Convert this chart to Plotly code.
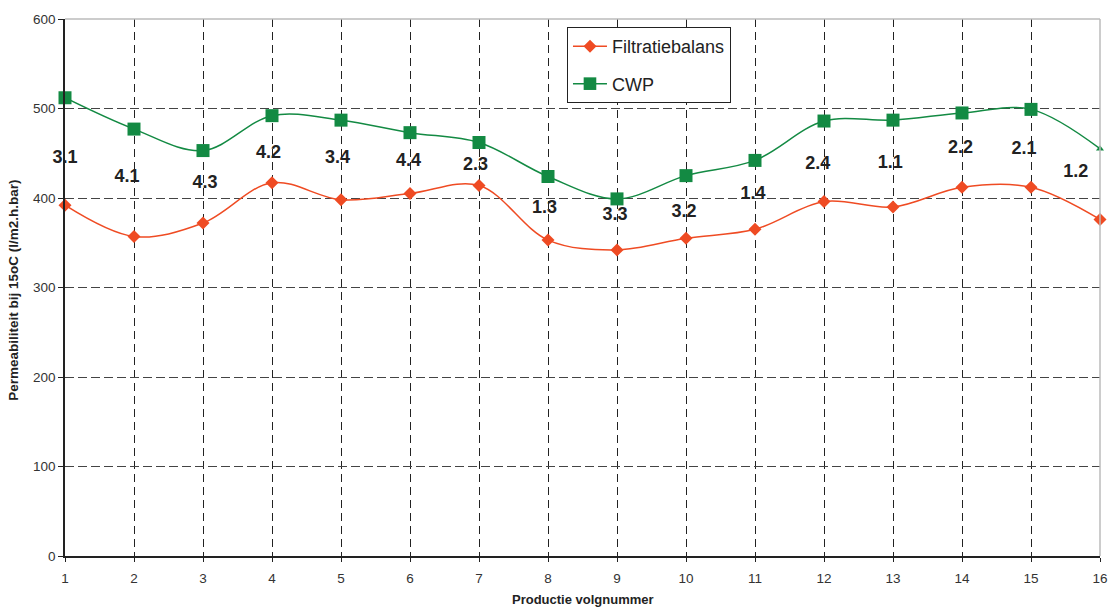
import plotly.graph_objects as go

# ---- data ----
volgnummer = list(range(1, 17))
filtratiebalans = [392, 357, 372, 417, 398, 405, 414, 353, 342, 355, 365, 396, 390, 412, 412, 376]
cwp = [512, 477, 453, 492, 487, 473, 462, 424, 399, 425, 442, 486, 487, 495, 499, 455]
cwp_symbols = ["square"] * 15 + ["triangle-up"]
cwp_sizes = [13] * 15 + [7]

label_text = ["3.1", "4.1", "4.3", "4.2", "3.4", "4.4", "2.3", "1.3",
              "3.3", "3.2", "1.4", "2.4", "1.1", "2.2", "2.1", "1.2"]
label_x = [1.0, 1.9, 3.03, 3.95, 4.95, 5.98, 6.95, 7.95,
           8.97, 9.97, 10.97, 11.91, 12.96, 13.98, 14.9, 15.65]
label_y = [444, 423, 416, 450, 444, 441, 436, 388,
           381, 384, 404, 437, 439, 455, 454, 428]

FONT = "Liberation Sans, Arial, sans-serif"
RED = "#EF4B23"
GREEN = "#138A43"

fig = go.Figure()
fig.add_trace(go.Scatter(
    x=volgnummer, y=filtratiebalans, name="Filtratiebalans",
    mode="lines+markers", legendgroup="a", cliponaxis=False,
    line=dict(color=RED, width=1.5, shape="spline", smoothing=1),
    marker=dict(symbol="diamond", size=10, color=RED, opacity=1, line=dict(width=0)),
))
fig.add_trace(go.Scatter(
    x=volgnummer, y=cwp, name="CWP",
    mode="lines+markers", legendgroup="b", cliponaxis=False,
    line=dict(color=GREEN, width=1.5, shape="spline", smoothing=1),
    marker=dict(symbol=cwp_symbols, size=cwp_sizes, color=GREEN, opacity=1, line=dict(width=0)),
))
fig.add_trace(go.Scatter(
    x=label_x, y=label_y, text=label_text, mode="text", cliponaxis=False,
    textposition="middle center", showlegend=False, hoverinfo="skip",
    textfont=dict(family=FONT, size=18, color="#222222", weight="bold"),
))

fig.update_layout(
    width=1109, height=607,
    margin=dict(l=65, r=9, t=19, b=51, autoexpand=False),
    paper_bgcolor="white", plot_bgcolor="white",
    font=dict(family=FONT, size=13.5, color="#333333"),
    showlegend=True,
    legend=dict(
        x=0.485, y=0.985, xanchor="left", yanchor="top",
        bgcolor="white", bordercolor="#222222", borderwidth=1,
        font=dict(family=FONT, size=18, color="#222222"),
        tracegroupgap=11, itemwidth=34,
    ),
    xaxis=dict(
        range=[1, 16], tick0=1, dtick=1, showline=True, linecolor="#222222", linewidth=1.5,
        ticks="outside", ticklen=4, tickcolor="#222222", ticklabelstandoff=5,
        showgrid=True, gridcolor="#222222", griddash="8px,5px", gridwidth=1,
        zeroline=False, fixedrange=True, automargin=False,
    ),
    yaxis=dict(
        range=[0, 600], tick0=0, dtick=100, showline=True, linecolor="#222222", linewidth=1.5,
        ticks="outside", ticklen=5, tickcolor="#222222",
        showgrid=True, gridcolor="#444444", griddash="9px,4px", gridwidth=1,
        zeroline=False, fixedrange=True, automargin=False,
    ),
    shapes=[
        dict(type="line", xref="paper", yref="paper", x0=0, x1=1, y0=1, y1=1,
             line=dict(color="#BBBBBB", width=1.5)),
        dict(type="line", xref="paper", yref="paper", x0=1, x1=1, y0=0, y1=1,
             line=dict(color="#BBBBBB", width=1.5)),
    ],
    annotations=[
        dict(text="<b>Permeabiliteit bij 15oC (l/m2.h.bar)</b>", textangle=-90,
             xref="paper", yref="paper", x=0, y=0.494, xanchor="center", yanchor="middle",
             xshift=-51, showarrow=False, font=dict(family=FONT, size=13.5, color="#222222")),
        dict(text="<b>Productie volgnummer</b>",
             xref="paper", yref="paper", x=0.5, y=0, xanchor="center", yanchor="middle",
             yshift=-43, showarrow=False, font=dict(family=FONT, size=13, color="#222222")),
    ],
)

fig.write_html("out.html")
